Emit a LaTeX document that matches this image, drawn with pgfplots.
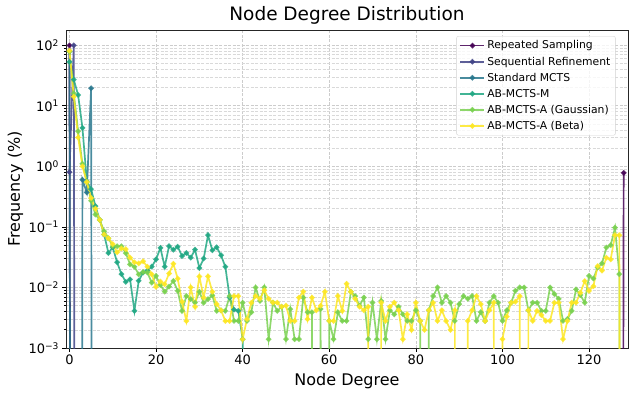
\documentclass[border=0pt]{standalone}
\usepackage{fontspec}
\setmainfont{DejaVu Sans}
\usepackage{pgfplots}
\usepackage{pgfplotstable}
\pgfplotsset{compat=1.18}

\definecolor{vRS}{HTML}{440154}
\definecolor{vSR}{HTML}{414487}
\definecolor{vSM}{HTML}{2A788E}
\definecolor{vAM}{HTML}{22A884}
\definecolor{vAG}{HTML}{7AD151}
\definecolor{vAB}{HTML}{FDE725}

% 1e-40 stands for a frequency of 0 (drawn off the bottom of the log axis)
\pgfplotstableread{
n M G B
0 53 78 81
1 27 16 14.1
2 15 3.8 3.0
3 4.3 1.1 1.0
4 0.57 0.55 0.55
5 0.42 0.27 0.3
6 0.22 0.16 0.2
7 0.13 0.13 0.13
8 0.075 0.085 0.075
9 0.037 0.065 0.065
10 0.046 0.048 0.052
11 0.026 0.048 0.038
12 0.0166 0.048 0.044
13 0.0124 0.037 0.043
14 0.0136 0.024 0.031
15 0.0041 0.022 0.026
16 0.0129 0.0165 0.025
17 0.0176 0.018 0.027
18 0.019 0.0176 0.022
19 0.022 0.012 0.0165
20 0.029 0.0155 0.0102
21 0.045 0.011 0.0125
22 0.022 0.0085 0.0113
23 0.048 0.0103 0.017
24 0.042 0.0128 0.0245
25 0.047 0.0088 0.014
26 0.033 0.0041 0.0058
27 0.037 0.0072 0.0028
28 0.031 0.0064 0.0100
29 0.042 0.0056 0.0048
30 0.021 0.0085 0.0152
31 0.030 0.0056 0.0068
32 0.073 0.0064 0.0152
33 0.041 0.0074 0.0085
34 0.046 0.0041 0.0053
35 0.034 0.0042 0.0042
36 0.022 0.0041 0.0028
37 0.0068 0.0072 0.0028
38 0.0043 0.0028 0.0072
39 0.0041 0.0028 0.0072
40 0.0014 0.0056 0.0014
41 1e-40 0.0028 0.0030
42 1e-40 0.0039 0.0056
43 1e-40 0.0100 0.0072
44 1e-40 0.0060 0.0065
45 1e-40 0.0100 0.0090
46 1e-40 0.0014 0.0065
47 1e-40 0.0056 0.0056
48 1e-40 0.0041 0.0056
49 1e-40 0.0048 0.0048
50 1e-40 0.0014 0.0050
51 1e-40 0.0044 0.0028
52 1e-40 0.0014 0.0028
53 1e-40 0.0014 0.0068
54 1e-40 0.0068 0.0085
55 1e-40 0.0039 0.0030
56 1e-40 0.0039 0.0068
57 1e-40 1e-40 0.0042
58 1e-40 0.0044 0.0050
59 1e-40 1e-40 0.0085
60 1e-40 0.0028 0.0028
61 1e-40 0.0014 0.0028
62 1e-40 0.0039 0.0072
63 1e-40 0.0028 0.0041
64 1e-40 0.0028 0.0115
65 1e-40 0.0085 0.0085
66 1e-40 0.0072 0.0065
67 1e-40 0.0050 0.0048
68 1e-40 0.0068 0.0042
69 1e-40 0.0014 0.0048
70 1e-40 0.0056 1e-40
71 1e-40 0.0014 1e-40
72 1e-40 0.0060 0.0056
73 1e-40 0.0014 0.0028
74 1e-40 0.0042 0.0048
75 1e-40 0.0036 0.0056
76 1e-40 0.0048 0.0042
77 1e-40 0.0036 0.0014
78 1e-40 0.0028 0.0036
79 1e-40 0.0028 0.0020
80 1e-40 0.0042 0.0056
81 1e-40 0.0028 0.0028
82 1e-40 1e-40 0.0020
83 1e-40 0.0042 0.0042
84 1e-40 0.0072 0.0056
85 1e-40 0.0100 0.0028
86 1e-40 0.0056 0.0042
87 1e-40 0.0072 0.0028
88 1e-40 0.0056 0.0020
89 1e-40 0.0028 0.0042
90 1e-40 0.0053 1e-40
91 1e-40 0.0072 1e-40
92 1e-40 0.0065 0.0028
93 1e-40 0.0072 0.0042
94 1e-40 0.0028 0.0072
95 1e-40 0.0039 0.0053
96 1e-40 0.0028 0.0028
97 1e-40 0.0056 0.0042
98 1e-40 0.0072 0.0056
99 1e-40 0.0056 1e-40
100 1e-40 0.0028 0.0014
101 1e-40 0.0042 0.0033
102 1e-40 0.0056 0.0056
103 1e-40 0.0088 0.0058
104 1e-40 0.0100 0.0072
105 1e-40 0.0100 1e-40
106 1e-40 0.0042 0.0042
107 1e-40 0.0056 0.0028
108 1e-40 0.0056 0.0041
109 1e-40 0.0041 0.0035
110 1e-40 0.0041 0.0028
111 1e-40 0.0100 0.0028
112 1e-40 0.0078 0.0056
113 1e-40 0.0065 0.0056
114 1e-40 0.0028 0.0014
115 1e-40 0.0030 0.0028
116 1e-40 0.0041 0.0056
117 1e-40 0.0093 0.0056
118 1e-40 0.0075 0.0082
119 1e-40 0.0056 0.0127
120 1e-40 0.0155 0.0088
121 1e-40 0.014 0.0105
122 1e-40 0.0213 0.0225
123 1e-40 0.025 0.019
124 1e-40 0.0455 0.031
125 1e-40 0.05 0.029
126 1e-40 0.097 0.073
127 1e-40 0.0166 0.073
128 1e-40 1e-40 1e-40
}\abdata

\begin{document}
\begin{tikzpicture}
\useasboundingbox (-66pt,-49pt) rectangle (568pt,348pt);
\begin{axis}[
  scale only axis, width=562pt, height=318pt,
  xmin=-0.8, xmax=129,
  ymode=log, ymin=1e-3, ymax=178,
  xtick={0,20,...,120},
  ytick={1e-3,1e-2,1e-1,1,10,100},
  yticklabels={10\textsuperscript{−3},10\textsuperscript{−2},10\textsuperscript{−1},10\textsuperscript{0},10\textsuperscript{1},10\textsuperscript{2}},
  minor ytick={2e-3,3e-3,4e-3,5e-3,6e-3,7e-3,8e-3,9e-3,2e-2,3e-2,4e-2,5e-2,6e-2,7e-2,8e-2,9e-2,0.2,0.3,0.4,0.5,0.6,0.7,0.8,0.9,2,3,4,5,6,7,8,9,20,30,40,50,60,70,80,90},
  /pgf/number format/assume math mode=true,
  grid=both,
  major grid style={gray!40, dash pattern=on 3pt off 1.5pt, line width=0.5pt},
  minor grid style={gray!30, dash pattern=on 3pt off 1.5pt, line width=0.5pt},
  tick align=outside, xtick pos=left, ytick pos=left,
  major tick length=3.5pt, minor tick length=2pt,
  every tick/.style={black, line width=0.6pt},
  axis line style={black!85, line width=0.8pt},
  tick label style={font=\fontsize{13}{15}\selectfont},
  label style={font=\fontsize{16}{19}\selectfont},
  title style={font=\fontsize{18.5}{22}\selectfont, yshift=-4pt},
  title={Node Degree Distribution},
  xlabel={Node Degree}, ylabel={Frequency (\%)},
  xlabel style={at={(axis description cs:0.5,-0.104)}, anchor=center},
  ylabel style={at={(axis description cs:-0.09,0.5)}, anchor=center},
  every axis plot/.append style={line width=1.7pt, mark=*, mark size=1.8pt, opacity=0.85},
  legend cell align=left,
  legend style={at={(rel axis cs:0.978,0.981)}, anchor=north east,
    font=\fontsize{10.8}{13}\selectfont, draw=gray!35, rounded corners=2pt,
    fill=white, fill opacity=0.8, text opacity=1, row sep=2.4pt,
    inner xsep=3pt, inner ysep=2.5pt},
  legend image code/.code={\draw[line width=1.7pt, mark size=1.8pt, mark repeat=2,mark phase=2] plot coordinates {(0pt,0pt) (12pt,0pt) (24pt,0pt)};},
]
\addplot[color=vRS] coordinates {(0,99.2) (1,1e-40) (127,1e-40) (128,0.78)};
\addlegendentry{Repeated Sampling}
\addplot[color=vSR] coordinates {(0,0.8) (1,99.2) (2,1e-40) (128,1e-40)};
\addlegendentry{Sequential Refinement}
\addplot[color=vSM] coordinates {(0,79.5) (1,1e-40) (2,1e-40) (3,0.6) (4,0.37) (5,19.5) (6,1e-40) (128,1e-40)};
\addlegendentry{Standard MCTS}
\addplot[color=vAM] table[x=n, y=M] {\abdata};
\addlegendentry{AB-MCTS-M}
\addplot[color=vAG] table[x=n, y=G] {\abdata};
\addlegendentry{AB-MCTS-A (Gaussian)}
\addplot[color=vAB] table[x=n, y=B] {\abdata};
\addlegendentry{AB-MCTS-A (Beta)}
\end{axis}
\end{tikzpicture}
\end{document}
